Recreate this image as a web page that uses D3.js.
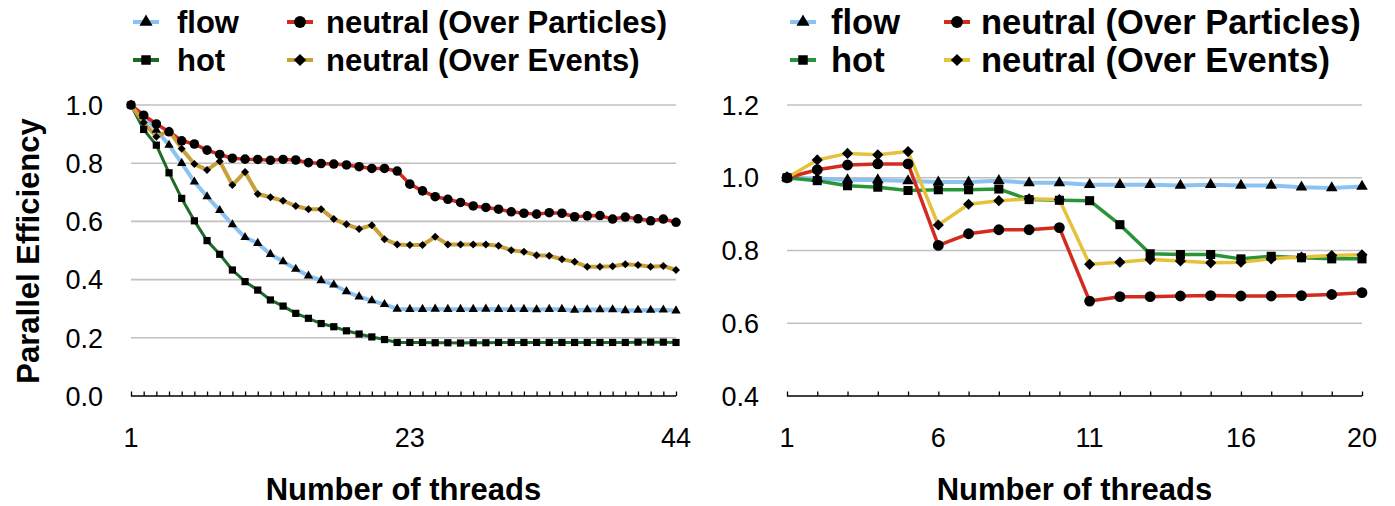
<!DOCTYPE html>
<html>
<head>
<meta charset="utf-8">
<script src="https://cdn.jsdelivr.net/npm/d3@7"></script>
<style>
  html, body { margin: 0; padding: 0; background: #fff; }
  svg { display: block; font-family: "Liberation Sans", Arial, Helvetica, sans-serif; }
</style>
</head>
<body>
<svg id="chart" width="1395" height="506"></svg>
<script>
// ---------- DATA ----------
const seriesNames = ["flow", "hot", "neutral (Over Particles)", "neutral (Over Events)"];

// Left chart: threads 1..44
const leftThreads = d3.range(1, 45);
const leftFlow = [1.0, .962, .914, .862, .80, .736, .685, .638, .589, .545, .525, .487, .462, .436, .413, .397, .382, .359, .341, .328, .315, .299,
  .298, .298, .299, .298, .298, .298, .299, .298, .298, .298, .297, .298, .298, .295, .297, .297, .297, .294, .295, .295, .296, .293];
const leftHot = [1.0, .916, .862, .767, .679, .602, .534, .487, .433, .393, .364, .330, .309, .284, .267, .249, .238, .224, .213, .203, .194, .184,
  .184, .184, .183, .183, .182, .183, .183, .184, .184, .184, .184, .184, .184, .184, .184, .184, .184, .184, .185, .185, .185, .184];
const leftOverParticles = [1.0, .965, .935, .908, .877, .866, .845, .830, .817, .814, .813, .810, .813, .811, .802, .799, .797, .794, .788, .782, .782, .773,
  .728, .705, .685, .676, .665, .653, .648, .642, .633, .628, .625, .630, .628, .616, .619, .620, .608, .615, .609, .602, .608, .597];
const leftOverEvents = [1.0, .94, .891, .912, .85, .797, .777, .807, .725, .77, .694, .683, .671, .653, .642, .642, .608, .590, .574, .587, .539, .521,
  .519, .519, .547, .521, .521, .521, .521, .516, .501, .496, .484, .482, .470, .461, .444, .444, .446, .453, .450, .444, .447, .433];
const leftXTicks = [1, 23, 44];
const leftYTicks = [0.0, 0.2, 0.4, 0.6, 0.8, 1.0];

// Right chart: threads 1..20
const rightThreads = d3.range(1, 21);
const rightFlow = [1.0, .998, .994, .994, .991, .988, .988, .992, .986, .986, .981, .981, .981, .979, .981, .979, .979, .974, .972, .976];
const rightHot = [1.0, .992, .978, .974, .965, .967, .967, .969, .940, .938, .937, .871, .791, .789, .789, .777, .784, .780, .777, .777];
const rightOverParticles = [1.0, 1.022, 1.035, 1.038, 1.038, .814, .846, .857, .857, .863, .661, .673, .673, .675, .676, .675, .675, .676, .679, .684];
const rightOverEvents = [1.0, 1.049, 1.067, 1.063, 1.072, .870, .927, .937, .942, .940, .762, .768, .775, .771, .766, .768, .777, .782, .786, .788];
const rightXTicks = [1, 6, 11, 16, 20];
const rightYTicks = [0.4, 0.6, 0.8, 1.0, 1.2];

const xTitle = "Number of threads";
const yTitle = "Parallel Efficiency";

// ---------- DRAW ----------
const svg = d3.select("#chart");

const shapes = {
  triangle: d3.symbolTriangle,
  square: d3.symbolSquare,
  circle: d3.symbolCircle,
  diamond: d3.symbolSquare
};

function drawPanel(cfg) {
  const x = d3.scaleLinear().domain(cfg.xDomain).range(cfg.xRange);
  const y = d3.scaleLinear().domain(cfg.yDomain).range(cfg.yRange);
  const g = svg.append("g");

  // gridlines
  g.append("g").selectAll("line").data(cfg.yTicks.slice(1)).join("line")
    .attr("x1", cfg.xRange[0]).attr("x2", cfg.xRange[1])
    .attr("y1", d => y(d)).attr("y2", d => y(d))
    .attr("stroke", "#c0c0c0").attr("stroke-width", 1.6);

  // x axis with ticks at every category pointing up
  const xAxis = d3.axisBottom(x).tickValues(cfg.threads).tickSize(-4.5).tickFormat("");
  const ax = g.append("g").attr("transform", `translate(0,${y(cfg.yDomain[0])})`).call(xAxis);
  ax.select(".domain").attr("stroke", "#000").attr("stroke-width", 1.6).attr("d", `M${cfg.xRange[0]},0H${cfg.xRange[1]}`);
  ax.selectAll(".tick line").attr("stroke", "#000").attr("stroke-width", 1.3);

  // x tick labels
  g.append("g").selectAll("text").data(cfg.xTicks).join("text")
    .attr("x", d => x(d)).attr("y", 447)
    .attr("text-anchor", "middle").attr("font-size", 27).attr("fill", "#000")
    .text(d => d);

  // y tick labels
  g.append("g").selectAll("text").data(cfg.yTicks).join("text")
    .attr("x", cfg.xRange[0] - 28).attr("y", d => y(d)).attr("dy", "0.36em")
    .attr("text-anchor", "end").attr("font-size", 27).attr("fill", "#000")
    .text(d => d3.format(".1f")(d));

  // x title
  g.append("text").attr("x", (cfg.xRange[0] + cfg.xRange[1]) / 2).attr("y", 500)
    .attr("text-anchor", "middle").attr("font-size", 31).attr("font-weight", "bold")
    .text(xTitle);

  const line = d3.line().x((d, i) => x(cfg.threads[i])).y(d => y(d));

  // lines
  cfg.series.forEach(s => {
    g.append("path").datum(s.values).attr("d", line)
      .attr("fill", "none").attr("stroke", s.color).attr("stroke-width", s.width)
      .attr("stroke-linejoin", "round");
  });
  // markers
  cfg.series.forEach(s => {
    const sym = d3.symbol().type(shapes[s.shape]).size(s.size);
    g.append("g").selectAll("path").data(s.values).join("path")
      .attr("d", sym)
      .attr("transform", (d, i) => `translate(${x(cfg.threads[i])},${y(d)})` + (s.shape === "diamond" ? " rotate(45)" : ""))
      .attr("fill", "#000");
  });

  // legend
  const L = cfg.legend;
  const order = [0, 2, 1, 3];
  order.forEach((si, k) => {
    const s = cfg.series[si];
    const col = k % 2, row = Math.floor(k / 2);
    const lx = L.cols[col], ly = L.rows[row];
    g.append("line").attr("x1", lx - 13).attr("x2", lx + 13).attr("y1", ly).attr("y2", ly)
      .attr("stroke", s.color).attr("stroke-width", 4);
    g.append("path").attr("d", d3.symbol().type(shapes[s.shape]).size(s.legendSize)())
      .attr("transform", `translate(${lx},${ly})` + (s.shape === "diamond" ? " rotate(45)" : ""))
      .attr("fill", "#000");
    g.append("text").attr("x", L.textX[col]).attr("y", ly).attr("dy", "0.36em")
      .attr("font-size", L.fontSize).attr("font-weight", "bold").text(seriesNames[si]);
  });
}

drawPanel({
  threads: leftThreads,
  xDomain: [1, 44], xRange: [131, 676],
  yDomain: [0, 1], yRange: [396, 105],
  xTicks: leftXTicks, yTicks: leftYTicks,
  legend: { cols: [146, 300], textX: [177, 326], rows: [22, 60], fontSize: 31 },
  series: [
    { values: leftFlow, color: "#8cc2f2", width: 4, shape: "triangle", size: 38, legendSize: 75 },
    { values: leftHot, color: "#1d6a29", width: 3, shape: "square", size: 52, legendSize: 90 },
    { values: leftOverParticles, color: "#d12a1f", width: 3.5, shape: "circle", size: 72, legendSize: 110 },
    { values: leftOverEvents, color: "#c9a13c", width: 4, shape: "diamond", size: 32, legendSize: 75 }
  ]
});

drawPanel({
  threads: rightThreads,
  xDomain: [1, 20], xRange: [787, 1362],
  yDomain: [0.4, 1.2], yRange: [396, 105],
  xTicks: rightXTicks, yTicks: rightYTicks,
  legend: { cols: [803, 957], textX: [831, 981], rows: [22, 60], fontSize: 34.5 },
  series: [
    { values: rightFlow, color: "#8cc2f2", width: 4, shape: "triangle", size: 58, legendSize: 75 },
    { values: rightHot, color: "#2a9438", width: 3.5, shape: "square", size: 82, legendSize: 90 },
    { values: rightOverParticles, color: "#d42b1f", width: 3.5, shape: "circle", size: 92, legendSize: 110 },
    { values: rightOverEvents, color: "#e6c23c", width: 3.5, shape: "diamond", size: 62, legendSize: 75 }
  ]
});

// y title
svg.append("text").attr("transform", "translate(39,251) rotate(-90)")
  .attr("text-anchor", "middle").attr("font-size", 31).attr("font-weight", "bold")
  .text(yTitle);
</script>
</body>
</html>
